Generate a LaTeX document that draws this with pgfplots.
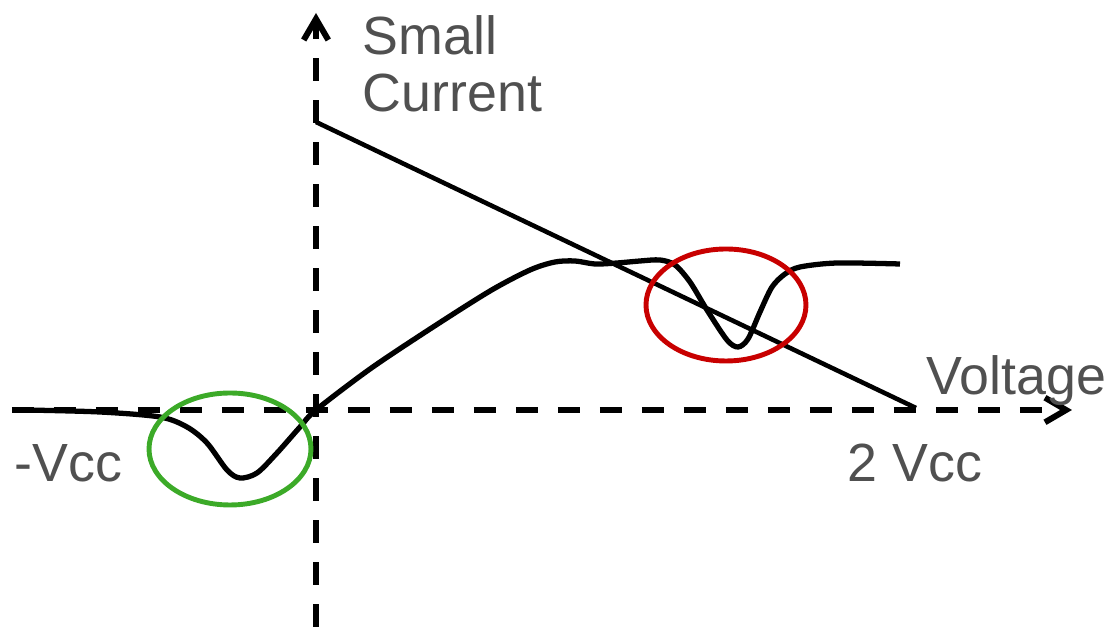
\documentclass[border=0pt]{standalone}
\usepackage{pgfplots}
\pgfplotsset{compat=1.18}
\usepackage{fontspec}
\setmainfont{Liberation Sans}
\usetikzlibrary{arrows.meta}
\definecolor{txt}{RGB}{80,80,80}
\definecolor{cgreen}{RGB}{60,170,40}
\definecolor{cred}{RGB}{200,0,0}
\begin{document}
\begin{tikzpicture}
\begin{axis}[
  width=11.07cm, height=6.27cm, scale only axis,
  xmin=0, xmax=1107, ymin=0, ymax=627,
  axis lines=none, clip=false,
]
\path (rel axis cs:0,0) rectangle (rel axis cs:1,1);
% axes
\addplot[line width=1.7pt, dash pattern=on 0.23cm off 0.19cm, -{Straight Barb[length=6pt,width=7pt,line width=1.7pt]}]
  coordinates {(316,0) (316,614)};
\addplot[line width=1.7pt, dash pattern=on 0.22cm off 0.2cm, -{Straight Barb[length=6pt,width=7pt,line width=1.7pt]}]
  coordinates {(12,217) (1072,217)};
% load line
\addplot[line width=1.3pt] coordinates {(316,505) (916,219)};
% curve
\addplot[line width=1.5pt, smooth, tension=0.5] coordinates {
(25,217)(100,215)(160,210)(187,200)(207,184)(227,157)(240,149)(257,154)(277,174)(300,200)(316,217)(370,258)(430,298)(490,336)(530,357)(555,365)(575,366)(595,363)(617,364)(640,366)(660,367)(675,362)(690,345)(707,317)(727,287)(738,280)(748,288)(760,315)(772,340)(785,353)(800,360)(837,364)(900,363)};
% ellipses
\draw[cgreen, line width=1.4pt] (axis cs:230,178) ellipse [x radius=0.81cm, y radius=0.56cm];
\draw[cred, line width=1.4pt] (axis cs:726,322) ellipse [x radius=0.80cm, y radius=0.56cm];
% labels
\node[anchor=base west, inner sep=0, text=txt, font=\fontsize{15.3pt}{19pt}\selectfont] at (axis cs:362,572) {Small};
\node[anchor=base west, inner sep=0, text=txt, font=\fontsize{15.3pt}{19pt}\selectfont] at (axis cs:362,515) {Current};
\node[anchor=base west, inner sep=0, text=txt, font=\fontsize{15.3pt}{19pt}\selectfont] at (axis cs:926,232) {Voltage};
\node[anchor=base west, inner sep=0, text=txt, font=\fontsize{15.3pt}{19pt}\selectfont] at (axis cs:14,145) {-Vcc};
\node[anchor=base west, inner sep=0, text=txt, font=\fontsize{15.3pt}{19pt}\selectfont] at (axis cs:847,145) {2 Vcc};
\end{axis}
\end{tikzpicture}
\end{document}
